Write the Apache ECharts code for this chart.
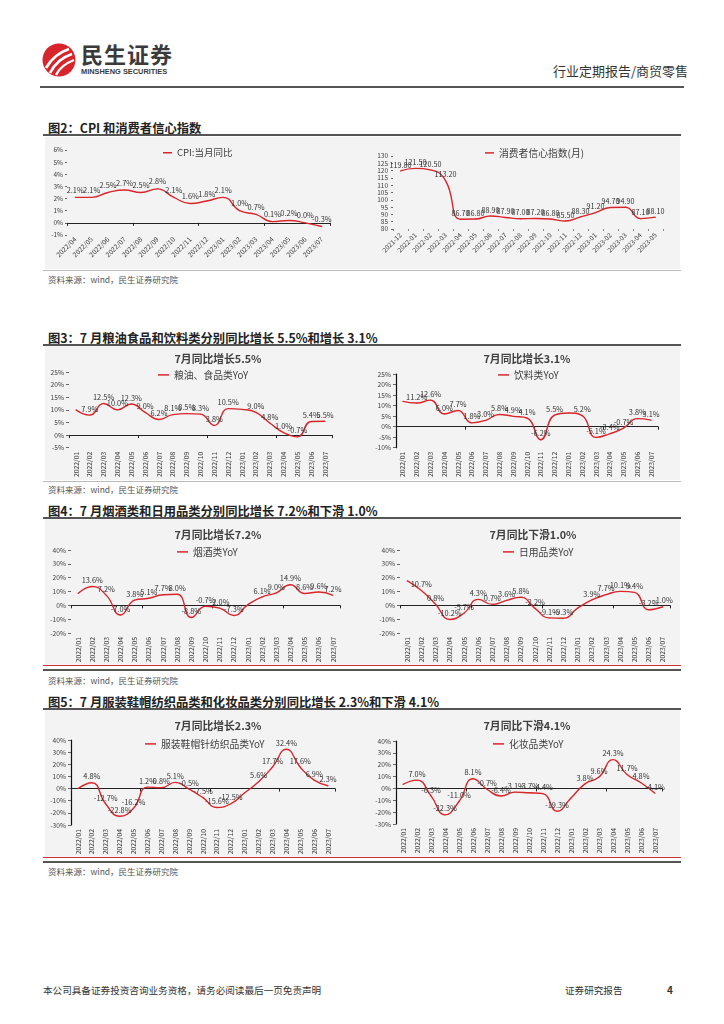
<!DOCTYPE html>
<html><head><meta charset="utf-8">
<script src="https://cdn.jsdelivr.net/npm/echarts@6/dist/echarts.min.js"></script>
<style>
html,body{margin:0;padding:0;background:#fff;width:724px;height:1024px;overflow:hidden;font-family:"Noto Sans CJK SC","Noto Sans",sans-serif;}
.abs{position:absolute;}
.ftitle{position:absolute;left:48px;font-size:12.3px;font-weight:bold;color:#222;white-space:nowrap;}
.uline{position:absolute;left:43px;width:638px;height:1.5px;background:#555;}
.panel{position:absolute;left:45px;width:635px;background:#f3f3f3;}
.src{position:absolute;left:48px;font-size:8.5px;color:#555;white-space:nowrap;}
.thin{position:absolute;left:43px;width:638px;height:1px;background:#bbb;}
.chart{position:absolute;}
</style></head>
<body>
<!-- header -->
<svg class="abs" style="left:42px;top:43px" width="34" height="34" viewBox="0 0 34 34">
  <circle cx="17" cy="17" r="16.5" fill="#d7252b"/>
  <path d="M4 25 Q12 11 27 6" stroke="#fff" stroke-width="2.6" fill="none"/>
  <path d="M8 30 Q15 16 30 11" stroke="#fff" stroke-width="2.6" fill="none"/>
  <path d="M14 32 Q19 22 32 17" stroke="#fff" stroke-width="2.4" fill="none"/>
</svg>
<div class="abs" style="left:81px;top:38px;font-size:22px;line-height:30px;font-weight:bold;color:#3a3a3a;letter-spacing:1px;">民生证券</div>
<div class="abs" style="left:81px;top:67px;font-size:7.4px;line-height:9px;font-weight:bold;color:#3a3a3a;font-family:'Liberation Sans',sans-serif;">MINSHENG SECURITIES</div>
<div class="abs" style="left:553px;top:61px;font-size:13px;color:#333;">行业定期报告/商贸零售</div>
<div class="abs" style="left:40px;top:86px;width:644px;height:1.5px;background:#555;"></div>

<!-- Fig2 -->
<div class="ftitle" style="top:119px;">图2：CPI 和消费者信心指数</div>
<div class="uline" style="top:134px;"></div>
<div class="panel" style="top:137px;height:132px;"></div>
<div class="thin" style="top:270px;"></div>
<div class="src" style="top:273px;">资料来源：wind，民生证券研究院</div>
<div id="c1" class="chart" style="left:45px;top:137px;width:315px;height:132px;"></div>
<div id="c2" class="chart" style="left:365px;top:137px;width:315px;height:132px;"></div>

<!-- Fig3 -->
<div class="ftitle" style="top:329px;">图3：7 月粮油食品和饮料类分别同比增长 5.5%和增长 3.1%</div>
<div class="uline" style="top:344px;"></div>
<div class="panel" style="top:346px;height:134px;"></div>
<div class="thin" style="top:481px;"></div>
<div class="src" style="top:483px;">资料来源：wind，民生证券研究院</div>
<div id="c3" class="chart" style="left:45px;top:346px;width:315px;height:134px;"></div>
<div id="c4" class="chart" style="left:365px;top:346px;width:315px;height:134px;"></div>

<!-- Fig4 -->
<div class="ftitle" style="top:502px;">图4：7 月烟酒类和日用品类分别同比增长 7.2%和下滑 1.0%</div>
<div class="uline" style="top:517px;"></div>
<div class="panel" style="top:519px;height:147px;"></div>
<div class="abs" style="left:43px;top:665px;width:638px;height:1px;background:#c8333a;"></div>
<div class="abs" style="left:43px;top:669px;width:638px;height:1.5px;background:#555;"></div>
<div class="src" style="top:674px;">资料来源：wind，民生证券研究院</div>
<div id="c5" class="chart" style="left:45px;top:519px;width:315px;height:147px;"></div>
<div id="c6" class="chart" style="left:365px;top:519px;width:315px;height:147px;"></div>

<!-- Fig5 -->
<div class="ftitle" style="top:693px;">图5：7 月服装鞋帽纺织品类和化妆品类分别同比增长 2.3%和下滑 4.1%</div>
<div class="uline" style="top:708px;"></div>
<div class="panel" style="top:710px;height:148px;"></div>
<div class="abs" style="left:43px;top:857px;width:638px;height:1px;background:#c8333a;"></div>
<div class="abs" style="left:43px;top:861px;width:638px;height:1.5px;background:#555;"></div>
<div class="src" style="top:865px;">资料来源：wind，民生证券研究院</div>
<div id="c7" class="chart" style="left:45px;top:710px;width:315px;height:148px;"></div>
<div id="c8" class="chart" style="left:365px;top:710px;width:315px;height:148px;"></div>

<!-- footer -->
<div class="abs" style="left:43px;top:983px;font-size:9.6px;color:#333;">本公司具备证券投资咨询业务资格，请务必阅读最后一页免责声明</div>
<div class="abs" style="left:565px;top:983px;font-size:9.6px;color:#333;">证券研究报告</div>
<div class="abs" style="left:667px;top:982px;font-size:10px;font-weight:bold;color:#333;">4</div>

<script>
// ---------- data ----------
const cpiMonths = ['2022/04','2022/05','2022/06','2022/07','2022/08','2022/09','2022/10','2022/11','2022/12','2023/01','2023/02','2023/03','2023/04','2023/05','2023/06','2023/07'];
const cpiValues = [2.1, 2.1, 2.5, 2.7, 2.5, 2.8, 2.1, 1.6, 1.8, 2.1, 1.0, 0.7, 0.1, 0.2, 0.0, -0.3];

const confMonths = ['2021-12','2022-01','2022-02','2022-03','2022-04','2022-05','2022-06','2022-07','2022-08','2022-09','2022-10','2022-11','2022-12','2023-01','2023-02','2023-03','2023-04','2023-05'];
const confValues = [119.8, 121.5, 120.5, 113.2, 86.7, 86.8, 88.9, 87.9, 87.0, 87.2, 86.8, 85.5, 88.3, 91.2, 94.7, 94.9, 87.1, 88.1];

const months = ['2022/01','2022/02','2022/03','2022/04','2022/05','2022/06','2022/07','2022/08','2022/09','2022/10','2022/11','2022/12','2023/01','2023/02','2023/03','2023/04','2023/05','2023/06','2023/07'];
const unlabeledMonths = ['2022/01','2023/01'];

const grainValues     = [10.0, 7.9, 12.5, 10.0, 12.3, 9.0, 6.2, 8.1, 8.5, 8.3, 3.8, 10.5, 10.2, 9.0, 4.8, 1.0, -0.7, 5.4, 5.5];
const beverageValues  = [12.0, 11.2, 12.6, 6.0, 7.7, 1.8, 3.0, 5.8, 4.9, 4.1, -6.2, 5.5, 6.5, 5.2, -5.1, -3.4, -0.7, 3.8, 3.1];
const tobaccoValues   = [8.5, 13.6, 7.2, -7.0, 3.8, 5.1, 7.7, 8.0, -8.8, -0.7, -2.0, -7.3, 0.5, 6.1, 9.0, 14.9, 8.6, 9.6, 7.2];
const dailyValues     = [17.8, 10.7, 0.8, -10.2, -5.7, 4.3, 0.7, 3.6, 5.8, -2.2, -9.1, -9.3, -2.0, 3.9, 7.7, 10.1, 9.4, -3.2, -1.0];
const apparelValues   = [0.0, 4.8, -12.7, -22.8, -16.2, 1.2, 0.8, 5.1, -0.5, -7.5, -15.6, -12.5, -3.5, 5.6, 17.7, 32.4, 17.6, 6.9, 2.3];
const cosmeticsValues = [3.4, 7.0, -6.3, -22.3, -11.0, 8.1, -0.7, -6.4, -3.1, -3.7, -4.4, -19.3, -8.0, 3.8, 9.6, 24.3, 11.7, 4.8, -4.1];

// ---------- styles ----------
const RED = '#d9262c';
const TXT = '#404040';
const FONT = '"Noto Sans CJK SC","Noto Sans",sans-serif';

function yoyChart(id, cfg) {
  const ch = echarts.init(document.getElementById(id), null, {renderer: 'canvas'});
  const labelFmt = p => unlabeledMonths.indexOf(p.name) >= 0 ? '' : p.value.toFixed(1) + '%';
  ch.setOption({
    animation: false,
    textStyle: {fontFamily: FONT},
    title: {
      text: cfg.title, left: cfg.titleX, top: cfg.titleY, textAlign: 'center',
      textStyle: {fontSize: 10.8, fontWeight: 'bold', color: '#404040', fontFamily: FONT}
    },
    legend: {
      data: [cfg.name], left: cfg.legX, top: cfg.legY, icon: 'rect', itemWidth: 11, itemHeight: 1.5, itemGap: 2,
      textStyle: {fontSize: 9.8, color: '#404040', fontFamily: FONT}
    },
    grid: cfg.grid,
    xAxis: [
      {type: 'category', data: months, position: 'bottom', boundaryGap: true,
       axisLine: {show: false, onZero: false}, axisTick: {show: false},
       axisLabel: {rotate: 90, fontSize: 6.8, color: TXT, interval: 0, margin: 4}},
      {type: 'category', data: months, position: 'top', boundaryGap: true,
       axisLine: {show: true, onZero: true, lineStyle: {color: '#222', width: 1}},
       axisTick: {show: true, inside: true, length: 3, lineStyle: {color: '#222'}},
       axisLabel: {show: false}}
    ],
    yAxis: {
      type: 'value', min: cfg.min, max: cfg.max, interval: cfg.interval,
      axisLine: {show: cfg.yLine, lineStyle: {color: '#111', width: 1.2}},
      axisTick: {show: true, length: 3, lineStyle: {color: '#666'}},
      splitLine: {show: false},
      axisLabel: {formatter: '{value}%', fontSize: 6.6, color: TXT, margin: 5}
    },
    series: [{
      type: 'line', name: cfg.name, data: cfg.data, xAxisIndex: 0, smooth: 0.5,
      symbol: 'circle', symbolSize: 1, itemStyle: {color: RED},
      lineStyle: {color: RED, width: 1.4},
      label: {show: true, position: 'top', distance: 2, fontSize: 7.4, color: '#333', formatter: labelFmt}
    }]
  });
}

// CPI chart
(function(){
  const ch = echarts.init(document.getElementById('c1'));
  ch.setOption({
    animation: false,
    textStyle: {fontFamily: FONT},
    legend: {data: ['CPI:当月同比'], left: 113, top: 6, icon: 'rect', itemWidth: 9, itemHeight: 1.5, itemGap: 2,
      textStyle: {fontSize: 9.5, color: '#404040', fontFamily: FONT}},
    grid: {left: 22, right: 30, top: 13, bottom: 34},
    xAxis: [
      {type: 'category', data: cpiMonths, position: 'bottom', boundaryGap: true,
       axisLine: {show: false, onZero: false}, axisTick: {show: false},
       axisLabel: {rotate: 45, fontSize: 6.8, color: TXT, interval: 0, margin: 3}},
      {type: 'category', data: cpiMonths, position: 'top', boundaryGap: true,
       axisLine: {show: true, onZero: true, lineStyle: {color: '#222', width: 1}},
       axisTick: {show: true, inside: true, length: 3, lineStyle: {color: '#222'}},
       axisLabel: {show: false}}
    ],
    yAxis: {type: 'value', min: -1, max: 6, interval: 1,
      axisLine: {show: false}, axisTick: {show: true, length: 2, lineStyle: {color: '#666'}},
      splitLine: {show: false},
      axisLabel: {formatter: '{value}%', fontSize: 6.5, color: TXT, margin: 4}},
    series: [{type: 'line', name: 'CPI:当月同比', data: cpiValues, xAxisIndex: 0, smooth: 0.5,
      symbol: 'circle', symbolSize: 1, itemStyle: {color: RED}, lineStyle: {color: RED, width: 1.4},
      label: {show: true, position: 'top', distance: 3, fontSize: 7.4, color: '#333',
        formatter: p => p.value.toFixed(1) + '%'}}]
  });
})();

// Consumer confidence chart
(function(){
  const ch = echarts.init(document.getElementById('c2'));
  ch.setOption({
    animation: false,
    textStyle: {fontFamily: FONT},
    legend: {data: ['消费者信心指数(月)'], left: 115, top: 6, icon: 'rect', itemWidth: 9, itemHeight: 1.5, itemGap: 2,
      textStyle: {fontSize: 9.8, color: '#404040', fontFamily: FONT}},
    grid: {left: 28, right: 17, top: 19, bottom: 40},
    xAxis: {type: 'category', data: confMonths, boundaryGap: true,
      axisLine: {show: false}, axisTick: {show: true, length: 2, lineStyle: {color: '#888'}},
      axisLabel: {rotate: 45, fontSize: 6.6, color: TXT, interval: 0, margin: 5}},
    yAxis: {type: 'value', min: 80, max: 130, interval: 5,
      axisLine: {show: false}, axisTick: {show: true, length: 2, lineStyle: {color: '#666'}},
      splitLine: {show: false},
      axisLabel: {fontSize: 6.5, color: TXT, margin: 5}},
    series: [{type: 'line', name: '消费者信心指数(月)', data: confValues, smooth: 0.5,
      symbol: 'circle', symbolSize: 1, itemStyle: {color: RED}, lineStyle: {color: RED, width: 1.4},
      label: {show: true, position: 'top', distance: 2, fontSize: 7.2, color: '#333',
        formatter: p => p.value.toFixed(2)}}]
  });
})();

yoyChart('c3', {title: '7月同比增长5.5%', name: '粮油、食品类YoY', data: grainValues, titleX: 168, titleY: 3, legX: 108, legY: 19,
  grid: {left: 24, right: 28, top: 26, bottom: 32}, min: -5, max: 25, interval: 5, yLine: false});
yoyChart('c4', {title: '7月同比增长3.1%', name: '饮料类YoY', data: beverageValues, titleX: 157, titleY: 3, legX: 128, legY: 19,
  grid: {left: 31, right: 22, top: 28, bottom: 32}, min: -10, max: 25, interval: 5, yLine: true});
yoyChart('c5', {title: '7月同比增长7.2%', name: '烟酒类YoY', data: tobaccoValues, titleX: 168, titleY: 6, legX: 127, legY: 23,
  grid: {left: 26, right: 20, top: 31, bottom: 33}, min: -20, max: 40, interval: 10, yLine: false});
yoyChart('c6', {title: '7月同比下滑1.0%', name: '日用品类YoY', data: dailyValues, titleX: 163, titleY: 6, legX: 133, legY: 23,
  grid: {left: 35, right: 10, top: 31, bottom: 33}, min: -20, max: 40, interval: 10, yLine: false});
yoyChart('c7', {title: '7月同比增长2.3%', name: '服装鞋帽针纺织品类YoY', data: apparelValues, titleX: 168, titleY: 6, legX: 95, legY: 24,
  grid: {left: 26, right: 25, top: 30, bottom: 33}, min: -30, max: 40, interval: 10, yLine: true});
yoyChart('c8', {title: '7月同比下滑4.1%', name: '化妆品类YoY', data: cosmeticsValues, titleX: 157, titleY: 6, legX: 123, legY: 24,
  grid: {left: 31, right: 18, top: 31, bottom: 34}, min: -30, max: 40, interval: 10, yLine: true});
</script>
</body></html>
